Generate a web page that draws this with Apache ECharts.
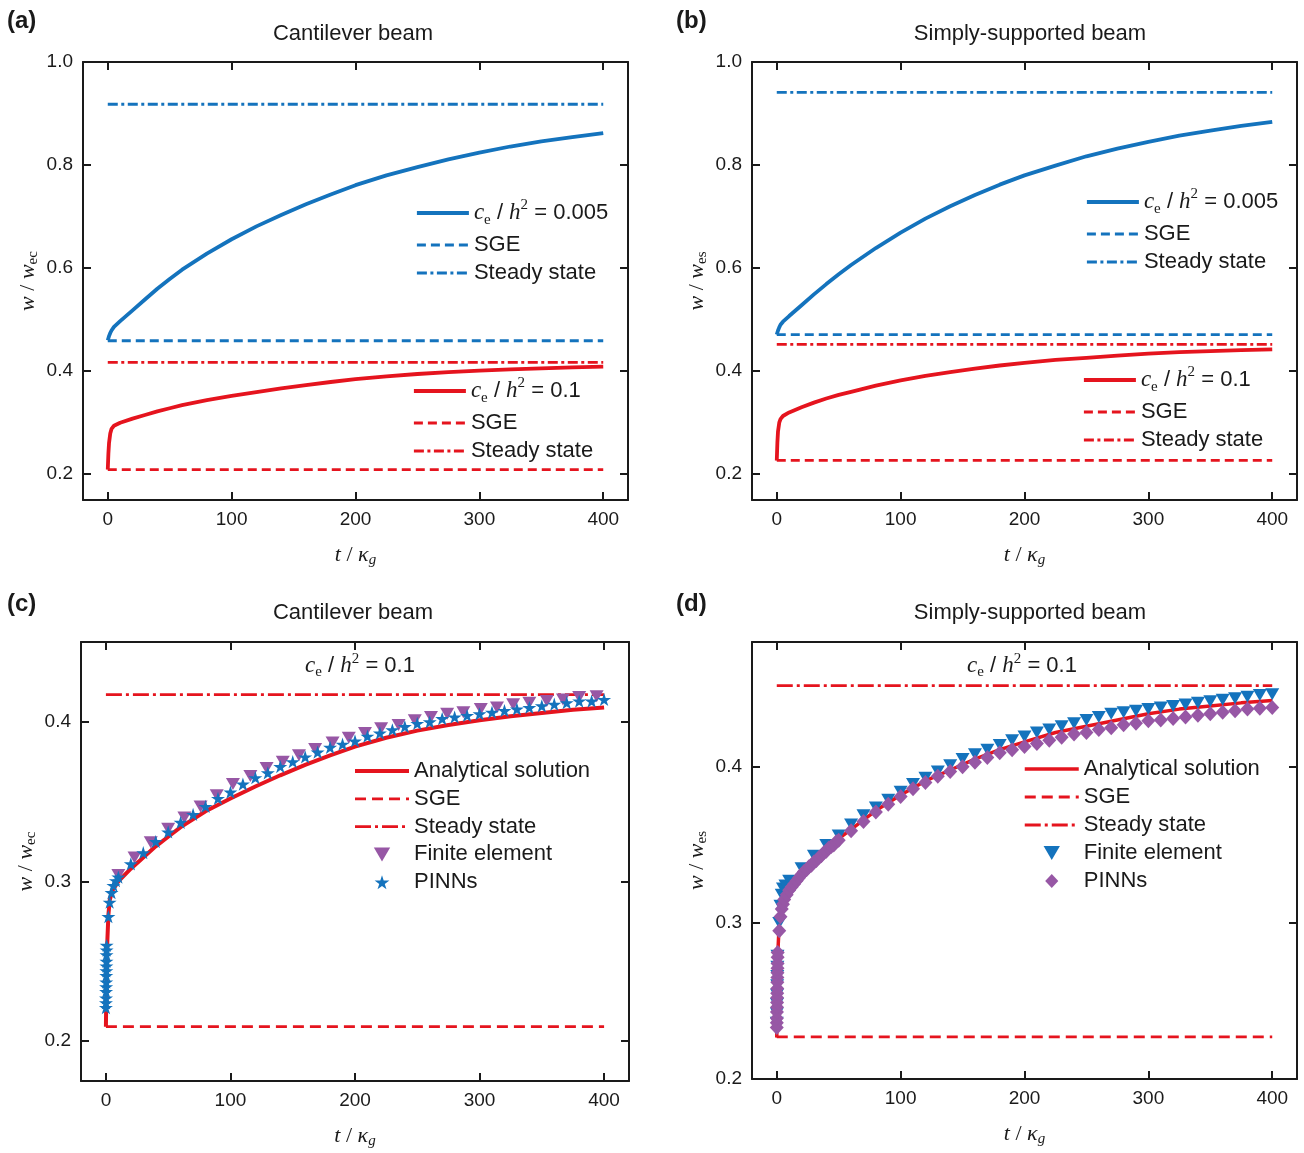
<!DOCTYPE html>
<html>
<head>
<meta charset="utf-8">
<title>Beam deflection vs time</title>
<script src="https://cdn.jsdelivr.net/npm/echarts/dist/echarts.min.js"></script>
<style>
html, body { margin: 0; padding: 0; background: #fff; }
#chart { width: 1304px; height: 1153px; }
</style>
</head>
<body>
<div id="chart"></div>
<script type="text/javascript">
// time points of the analytical curves (t / kappa_g)
var tCurve = [0, 0.5, 1, 2, 3, 5, 10, 20, 30, 40, 50, 60, 80, 100, 120, 140, 160, 180, 200, 225, 250, 275, 300, 325, 350, 375, 400];
// cantilever, c_e/h^2 = 0.005 and 0.1
var wCantLow = [0.460, 0.464, 0.468, 0.474, 0.479, 0.486, 0.497, 0.518, 0.539, 0.560, 0.579, 0.597, 0.628, 0.656, 0.681, 0.703, 0.724, 0.743, 0.761, 0.780, 0.796, 0.811, 0.824, 0.836, 0.846, 0.854, 0.862];
var wCantHigh = [0.209, 0.240, 0.260, 0.279, 0.288, 0.294, 0.300, 0.308, 0.315, 0.322, 0.328, 0.334, 0.344, 0.352, 0.3595, 0.3665, 0.373, 0.379, 0.3845, 0.390, 0.3945, 0.398, 0.401, 0.4035, 0.4055, 0.4075, 0.409];
// simply-supported, c_e/h^2 = 0.005 and 0.1
var wSimpLow = [0.471, 0.475, 0.479, 0.485, 0.490, 0.496, 0.507, 0.528, 0.549, 0.569, 0.588, 0.606, 0.639, 0.669, 0.696, 0.720, 0.742, 0.762, 0.780, 0.799, 0.817, 0.832, 0.845, 0.857, 0.867, 0.876, 0.884];
var wSimpHigh = [0.2265, 0.262, 0.283, 0.300, 0.307, 0.313, 0.320, 0.330, 0.339, 0.347, 0.354, 0.360, 0.372, 0.382, 0.391, 0.398, 0.405, 0.411, 0.416, 0.422, 0.426, 0.430, 0.434, 0.437, 0.439, 0.441, 0.4425];

// horizontal levels [c_e/h^2 = 0.005, c_e/h^2 = 0.1]
var tSpan = [0, 400];
var sgeCant = [0.459, 0.209];
var steadyCant = [0.918, 0.417];
var sgeSimp = [0.471, 0.227];
var steadySimp = [0.941, 0.452];

// cantilever, c_e/h^2 = 0.1 : finite element and PINNs
var tFeCant = [10, 23, 36, 50, 63, 76, 89, 102, 116, 129, 142, 155, 168, 182, 195, 208, 221, 235, 248, 261, 274, 287, 301, 314, 327, 340, 354, 367, 380, 394];
var wFeCant = [0.304, 0.315, 0.3245, 0.333, 0.340, 0.347, 0.354, 0.361, 0.366, 0.371, 0.375, 0.379, 0.383, 0.387, 0.390, 0.393, 0.396, 0.398, 0.401, 0.403, 0.405, 0.406, 0.408, 0.409, 0.411, 0.412, 0.413, 0.414, 0.4155, 0.416];
var tPinnCant = [0, 0.05, 0.1, 0.15, 0.2, 0.25, 0.3, 0.35, 0.4, 0.45, 0.5, 0.55, 0.6, 2, 3, 4.5, 6, 8, 10,
  20, 30, 40, 50, 60, 70, 80, 90, 100, 110, 120, 130, 140, 150, 160, 170, 180, 190, 200, 210,
  220, 230, 240, 250, 260, 270, 280, 290, 300, 310, 320, 330, 340, 350, 360, 370, 380, 390, 400];
var wPinnCant = [0.221, 0.224, 0.227, 0.231, 0.234, 0.237, 0.241, 0.244, 0.247, 0.250, 0.254, 0.257, 0.260, 0.278, 0.287, 0.293, 0.2975, 0.3005, 0.3027,
  0.311, 0.318, 0.325, 0.331, 0.337, 0.342, 0.347, 0.352, 0.356, 0.361, 0.365, 0.368, 0.372, 0.375, 0.378, 0.381, 0.384, 0.386, 0.388, 0.391,
  0.393, 0.395, 0.397, 0.399, 0.400, 0.402, 0.403, 0.404, 0.405, 0.406, 0.407, 0.408, 0.409, 0.410, 0.411, 0.412, 0.413, 0.413, 0.414];

// simply-supported, c_e/h^2 = 0.1 : finite element and PINNs
var tFeSimp = [0, 0.08, 0.16, 0.24, 0.32, 0.4, 0.48, 0.56, 2, 3, 4, 5, 7,
  10, 20, 30, 40, 50, 60, 70, 80, 90, 100, 110, 120, 130, 140, 150, 160, 170, 180, 190, 200,
  210, 220, 230, 240, 250, 260, 270, 280, 290, 300, 310, 320, 330, 340, 350, 360, 370, 380, 390, 400];
var wFeSimp = [0.236, 0.242, 0.248, 0.254, 0.260, 0.266, 0.272, 0.279, 0.300, 0.311, 0.318, 0.322, 0.324,
  0.327, 0.335, 0.343, 0.350, 0.356, 0.363, 0.369, 0.374, 0.379, 0.384, 0.389, 0.393, 0.397, 0.401, 0.405, 0.408, 0.411, 0.414, 0.417, 0.4195,
  0.422, 0.424, 0.426, 0.428, 0.430, 0.432, 0.434, 0.435, 0.436, 0.437, 0.438, 0.439, 0.440, 0.441, 0.442, 0.443, 0.444, 0.445, 0.446, 0.4465];
var tPinnSimp = [0, 0.05, 0.1, 0.15, 0.2, 0.25, 0.3, 0.35, 0.4, 0.45, 0.5, 0.55, 0.6, 0.65, 0.7, 0.75,
  2, 3, 4, 5, 6, 8, 10, 12, 14, 16, 18, 20, 22, 24, 26, 28, 30, 32, 34, 36, 38, 40, 42, 44, 46, 48, 50,
  60, 70, 80, 90, 100, 110, 120, 130, 140, 150, 160, 170, 180, 190, 200, 210, 220, 230, 240, 250,
  260, 270, 280, 290, 300, 310, 320, 330, 340, 350, 360, 370, 380, 390, 400];
var wPinnSimp = [0.233, 0.236, 0.239, 0.243, 0.246, 0.249, 0.252, 0.255, 0.258, 0.262, 0.265, 0.268, 0.271, 0.274, 0.278, 0.281,
  0.295, 0.304, 0.309, 0.312, 0.315, 0.318, 0.321, 0.323, 0.325, 0.327, 0.329, 0.331, 0.333, 0.334, 0.336, 0.337, 0.339, 0.340, 0.342, 0.343, 0.345, 0.346, 0.348, 0.349, 0.350, 0.352, 0.353,
  0.359, 0.365, 0.371, 0.376, 0.381, 0.386, 0.390, 0.394, 0.397, 0.400, 0.403, 0.406, 0.409, 0.411, 0.413, 0.415, 0.417, 0.419, 0.421, 0.422,
  0.424, 0.425, 0.427, 0.428, 0.4295, 0.430, 0.431, 0.432, 0.433, 0.434, 0.435, 0.436, 0.437, 0.4375, 0.438];

var SANS = '"Liberation Sans", Arial, sans-serif';
var SERIF = '"Liberation Serif", "Times New Roman", serif';
var BLUE = '#1473BD';
var RED = '#E5141E';
var PURPLE = '#9757A5';
var INK = '#1a1a1a';
var STAR = 'path://M50,0 L61,35 L98,35 L68,57 L79,91 L50,70 L21,91 L32,57 L2,35 L39,35 Z';
var TRI_DOWN = 'path://M0,0 L14,0 L7,12 Z';
var DIAMOND = 'path://M7,0 L14,7.5 L7,15 L0,7.5 Z';

var DASH = [9, 5];
var DASH_DOT = [10, 3.5, 3, 3.5];
var DASH_WIDE = [11, 6];
var DASH_DOT_WIDE = [16, 4, 3, 4];

var legendNames = {
	aLow: 'low', aSgeLow: 'SGE', aSsLow: 'Steady state', aHigh: 'high', aSgeHigh: 'SGE', aSsHigh: 'Steady state',
	bLow: 'low', bSgeLow: 'SGE', bSsLow: 'Steady state', bHigh: 'high', bSgeHigh: 'SGE', bSsHigh: 'Steady state',
	cAn: 'Analytical solution', cSge: 'SGE', cSs: 'Steady state', cFe: 'Finite element', cPinn: 'PINNs',
	dAn: 'Analytical solution', dSge: 'SGE', dSs: 'Steady state', dFe: 'Finite element', dPinn: 'PINNs'
};
var mathLow = '{i|c}{sub|e}{n| / }{i|h}{sup|2}{n| = 0.005}';
var mathHigh = '{i|c}{sub|e}{n| / }{i|h}{sup|2}{n| = 0.1}';

function mathRich(size, lh) {
	return {
		i: { fontFamily: SERIF, fontStyle: 'italic', fontSize: size + 1, lineHeight: lh, color: INK },
		sub: { fontFamily: SERIF, fontSize: 15, verticalAlign: 'bottom', lineHeight: lh, color: INK },
		sup: { fontFamily: SERIF, fontSize: 15, verticalAlign: 'top', lineHeight: lh, color: INK },
		n: { fontFamily: SANS, fontSize: size, lineHeight: lh, color: INK }
	};
}

function pairs(t, w) {
	return t.map(function (x, k) { return [x, w[k]]; });
}
function level(v) {
	return tSpan.map(function (t) { return [t, v]; });
}

// grid boxes for (a) (b) (c) (d)
var panels = [
	{ box: { left: 83, top: 62, width: 545, height: 438 }, yMin: 0.15, yMax: 1.0, split: 4, showMin: false, showMax: true, sub: 'ec' },
	{ box: { left: 752, top: 62, width: 545, height: 438 }, yMin: 0.15, yMax: 1.0, split: 4, showMin: false, showMax: true, sub: 'es' },
	{ box: { left: 81, top: 642, width: 548, height: 439 }, yMin: 0.175, yMax: 0.45, split: 3, showMin: false, showMax: false, sub: 'ec' },
	{ box: { left: 752, top: 642, width: 545, height: 437 }, yMin: 0.2, yMax: 0.48, split: 3, showMin: true, showMax: false, sub: 'es' }
];

var axisLine = { show: true, onZero: false, lineStyle: { color: INK, width: 2 } };
var axisTick = { show: true, inside: true, length: 8, lineStyle: { color: INK, width: 2 } };
var nameRich = {
	i: { fontFamily: SERIF, fontStyle: 'italic', fontSize: 22, color: INK, lineHeight: 26 },
	n: { fontFamily: SERIF, fontSize: 22, color: INK, lineHeight: 26 },
	sub: { fontFamily: SERIF, fontSize: 15, color: INK, verticalAlign: 'bottom', lineHeight: 26 },
	subi: { fontFamily: SERIF, fontStyle: 'italic', fontSize: 15, color: INK, verticalAlign: 'bottom', lineHeight: 26 }
};

var grids = [], xAxes = [], yAxes = [];
panels.forEach(function (p, i) {
	grids.push(Object.assign({ show: false }, p.box));
	xAxes.push({
		type: 'value', gridIndex: i, position: 'bottom', min: -20, max: 420, splitNumber: 4,
		axisLine: axisLine, axisTick: axisTick, splitLine: { show: false },
		axisLabel: { showMinLabel: false, showMaxLabel: false, margin: 10, fontSize: 19, fontFamily: SANS, color: INK },
		name: '{i|t}{n| / }{i|κ}{subi|g}', nameLocation: 'middle', nameGap: 42,
		nameTextStyle: { rich: nameRich }
	});
	xAxes.push({
		type: 'value', gridIndex: i, position: 'top', min: -20, max: 420, splitNumber: 4,
		axisLine: axisLine, axisTick: axisTick, splitLine: { show: false }, axisLabel: { show: false }
	});
	yAxes.push({
		type: 'value', gridIndex: i, position: 'left', min: p.yMin, max: p.yMax, splitNumber: p.split,
		axisLine: axisLine, axisTick: axisTick, splitLine: { show: false },
		axisLabel: {
			showMinLabel: p.showMin, showMaxLabel: p.showMax, margin: 10, fontSize: 19, fontFamily: SANS, color: INK,
			formatter: function (v) { return v.toFixed(1); }
		},
		name: '{i|w}{n| / }{i|w}{sub|' + p.sub + '}', nameLocation: 'middle', nameGap: 42, nameRotate: 90,
		nameTextStyle: { rich: nameRich }
	});
	yAxes.push({
		type: 'value', gridIndex: i, position: 'right', min: p.yMin, max: p.yMax, splitNumber: p.split,
		axisLine: axisLine, axisTick: axisTick, splitLine: { show: false }, axisLabel: { show: false }
	});
});

function line(name, panel, data, color, width, dash) {
	return {
		name: name, type: 'line', xAxisIndex: panel * 2, yAxisIndex: panel * 2,
		data: data, symbol: 'none', showSymbol: false, silent: true,
		lineStyle: { color: color, width: width, type: dash || 'solid' },
		itemStyle: { color: color, opacity: 0 }, z: 3
	};
}
function marks(name, panel, data, color, symbol, size) {
	return {
		name: name, type: 'scatter', xAxisIndex: panel * 2, yAxisIndex: panel * 2,
		data: data, symbol: symbol, symbolSize: size, symbolKeepAspect: true, silent: true,
		itemStyle: { color: color, opacity: 1 }, z: 4
	};
}

var series = [
	// (a) cantilever
	line('aSsLow', 0, level(steadyCant[0]), BLUE, 2.8, DASH_DOT),
	line('aSgeLow', 0, level(sgeCant[0]), BLUE, 2.8, DASH),
	line('aSsHigh', 0, level(steadyCant[1]), RED, 2.8, DASH_DOT),
	line('aSgeHigh', 0, level(sgeCant[1]), RED, 2.8, DASH),
	line('aLow', 0, pairs(tCurve, wCantLow), BLUE, 3.8),
	line('aHigh', 0, pairs(tCurve, wCantHigh), RED, 3.8),
	// (b) simply-supported
	line('bSsLow', 1, level(steadySimp[0]), BLUE, 2.8, DASH_DOT),
	line('bSgeLow', 1, level(sgeSimp[0]), BLUE, 2.8, DASH),
	line('bSsHigh', 1, level(steadySimp[1]), RED, 2.8, DASH_DOT),
	line('bSgeHigh', 1, level(sgeSimp[1]), RED, 2.8, DASH),
	line('bLow', 1, pairs(tCurve, wSimpLow), BLUE, 3.8),
	line('bHigh', 1, pairs(tCurve, wSimpHigh), RED, 3.8),
	// (c) cantilever, c_e/h^2 = 0.1
	line('cSs', 2, level(steadyCant[1]), RED, 2.8, DASH_DOT_WIDE),
	line('cSge', 2, level(sgeCant[1]), RED, 2.8, DASH_WIDE),
	line('cAn', 2, pairs(tCurve, wCantHigh), RED, 4),
	marks('cFe', 2, pairs(tFeCant, wFeCant), PURPLE, TRI_DOWN, 14),
	marks('cPinn', 2, pairs(tPinnCant, wPinnCant), BLUE, STAR, 14),
	// (d) simply-supported, c_e/h^2 = 0.1
	line('dSs', 3, level(steadySimp[1]), RED, 2.8, DASH_DOT_WIDE),
	line('dSge', 3, level(sgeSimp[1]), RED, 2.8, DASH_WIDE),
	line('dAn', 3, pairs(tCurve, wSimpHigh), RED, 3.5),
	marks('dFe', 3, pairs(tFeSimp, wFeSimp), BLUE, TRI_DOWN, 14),
	marks('dPinn', 3, pairs(tPinnSimp, wPinnSimp), PURPLE, DIAMOND, 15)
];

// legend entry per series: line entries get the series line width and no middle marker
function legendItem(n) {
	var s = series.filter(function (x) { return x.name === n; })[0];
	if (s.type !== 'line') return { name: n };
	return { name: n, itemStyle: { opacity: 0 }, lineStyle: { width: s.lineStyle.width, type: s.lineStyle.type, color: s.lineStyle.color } };
}

function legendAt(names, left, top, width, gap) {
	return {
		data: names.map(legendItem),
		orient: 'vertical', left: left, top: top, padding: 0,
		itemWidth: width, itemHeight: 14, itemGap: gap, selectedMode: false,
		textStyle: { fontFamily: SANS, fontSize: 22, color: INK, lineHeight: 22, rich: mathRich(22, 30) },
		formatter: function (name) {
			var label = legendNames[name];
			if (label === 'low') return mathLow;
			if (label === 'high') return mathHigh;
			return label;
		}
	};
}

var legends = [
	legendAt(['aLow', 'aSgeLow', 'aSsLow'], 415, 198, 52, 6),
	legendAt(['aHigh', 'aSgeHigh', 'aSsHigh'], 412, 376, 52, 6),
	legendAt(['bLow', 'bSgeLow', 'bSsLow'], 1085, 187, 52, 6),
	legendAt(['bHigh', 'bSgeHigh', 'bSsHigh'], 1082, 365, 52, 6),
	legendAt(['cAn', 'cSge', 'cSs', 'cFe', 'cPinn'], 353, 760, 54, 5.8),
	legendAt(['dAn', 'dSge', 'dSs', 'dFe', 'dPinn'], 1023, 758, 54, 6)
];

function label(text, x, y, font) {
	return {
		type: 'text', x: x, y: y, silent: true,
		style: { text: text, font: font, fill: INK, align: 'left', verticalAlign: 'middle' }
	};
}
function title(text, x, y) {
	return {
		type: 'text', x: x, y: y, silent: true,
		style: { text: text, font: '22px ' + SANS, fill: INK, align: 'center', verticalAlign: 'middle' }
	};
}
function note(x, y) {
	return {
		type: 'text', x: x, y: y, silent: true,
		style: { text: mathHigh, rich: mathRich(22, 28), fill: INK, align: 'center', verticalAlign: 'middle' }
	};
}

var option = {
	animation: false,
	backgroundColor: '#fff',
	grid: grids,
	xAxis: xAxes,
	yAxis: yAxes,
	legend: legends,
	series: series,
	graphic: [
		label('(a)', 7, 21, 'bold 24px ' + SANS),
		label('(b)', 676, 21, 'bold 24px ' + SANS),
		label('(c)', 7, 604, 'bold 24px ' + SANS),
		label('(d)', 676, 604, 'bold 24px ' + SANS),
		title('Cantilever beam', 353, 34),
		title('Simply-supported beam', 1030, 34),
		title('Cantilever beam', 353, 613),
		title('Simply-supported beam', 1030, 613),
		note(360, 666),
		note(1022, 666)
	]
};

var chart = echarts.init(document.getElementById('chart'));
chart.setOption(option);
</script>
</body>
</html>
